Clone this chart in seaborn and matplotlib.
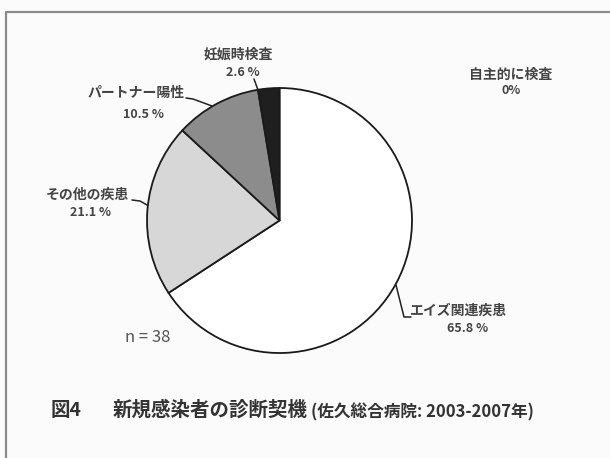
import matplotlib
matplotlib.use("Agg")
import matplotlib.pyplot as plt
import seaborn as sns

sns.set_theme(style="white")
plt.rcParams['font.family'] = ['Noto Sans CJK JP', 'DejaVu Sans']

# Diagnosis triggers for new HIV cases, n = 38
categories = ["エイズ関連疾患", "その他の疾患", "パートナー陽性", "妊娠時検査", "自主的に検査"]
percents = [65.8, 21.1, 10.5, 2.6, 0.0]
pct_labels = ["65.8 %", "21.1 %", "10.5 %", "2.6 %", "0%"]
n_total = 38

W, H = 610, 458
fig = plt.figure(figsize=(W / 100, H / 100), dpi=100)
fig.patch.set_facecolor("#fbfbfb")

def fx(px):
    return px / W

def fy(py):
    return 1 - py / H

# frame around the figure panel, drawn in pixel coordinates
frame = fig.add_axes([0, 0, 1, 1])
frame.set_xlim(0, W)
frame.set_ylim(H, 0)
frame.axis("off")
frame.plot([6, 6, W + 5], [H + 5, 12, 12], color="#8a8a8a", lw=1.6)

# pie
cx, cy, r = 279.5, 220.5, 132.5
ax = fig.add_axes([fx(cx - r), fy(cy + r), 2 * r / W, 2 * r / H])
colors = ["#ffffff", "#d7d7d7", "#8c8c8c", "#1f1f1f"]
vals = percents[:4]
ax.pie(vals, colors=colors, startangle=90, counterclock=False,
       wedgeprops=dict(edgecolor="#1a1a1a", linewidth=1.3), radius=1)
ax.set_xlim(-1, 1)
ax.set_ylim(-1, 1)
ax.set_aspect("auto")
ax.axis("off")

tc = "#444444"
lab_kw = dict(fontsize=10, fontweight="bold", color=tc, ha="center", va="center")
pct_kw = dict(lab_kw, fontsize=9)
lead_kw = dict(color="#222222", lw=1.1)

# slice labels with leader lines
frame.text(238, 55, categories[3], **lab_kw)
frame.text(243, 73, pct_labels[3], **pct_kw)
frame.plot([254, 258], [79, 90], **lead_kw)

frame.text(136, 93, categories[2], **lab_kw)
frame.text(143, 115, pct_labels[2], **pct_kw)
frame.plot([186, 193, 212], [98, 99, 106], **lead_kw)

frame.text(87, 195, categories[1], **lab_kw)
frame.text(90, 213, pct_labels[1], **pct_kw)
frame.plot([132, 140, 147], [200, 201, 205], **lead_kw)

frame.text(459, 311, categories[0], **lab_kw)
frame.text(468, 329, pct_labels[0], **pct_kw)
frame.plot([396, 404, 411], [285, 317, 317], **lead_kw)

frame.text(511, 75, categories[4], **lab_kw)
frame.text(511, 91, pct_labels[4], **pct_kw)

frame.text(148, 337, f"n = {n_total}", fontsize=12, color="#555555",
           ha="center", va="center")

# caption
frame.text(51, 410, "図4", fontsize=14, fontweight="bold", color="#333333",
           ha="left", va="center")
frame.text(113, 410, "新規感染者の診断契機", fontsize=14, fontweight="bold",
           color="#333333", ha="left", va="center")
frame.text(311, 412, "(佐久総合病院: 2003-2007年)", fontsize=12, fontweight="bold",
           color="#333333", ha="left", va="center")

fig.savefig("out.png", dpi=100, facecolor=fig.get_facecolor())
